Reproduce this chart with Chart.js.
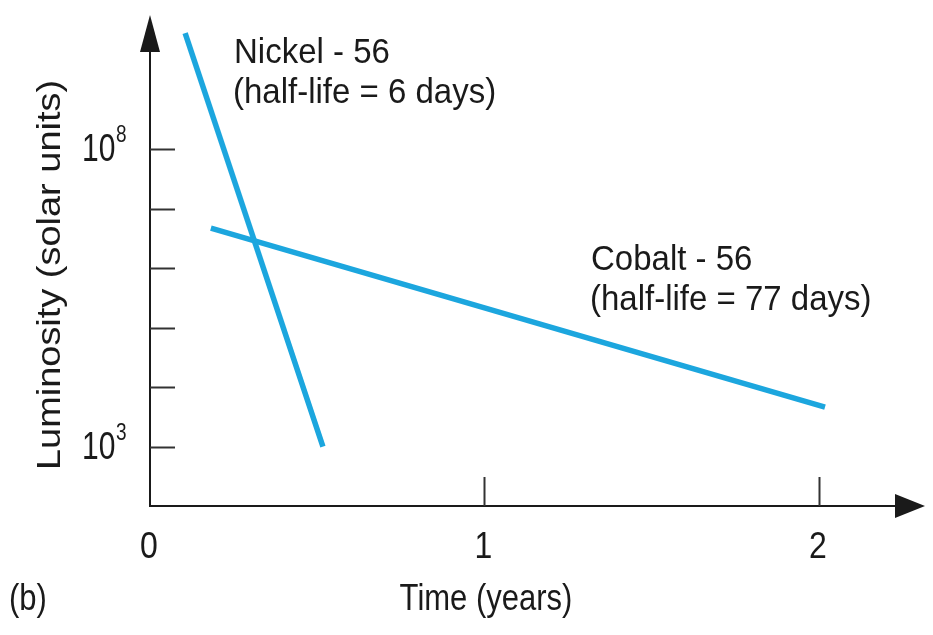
<!DOCTYPE html>
<html>
<head>
<meta charset="utf-8">
<script src="https://cdn.jsdelivr.net/npm/chart.js@4"></script>
<style>
  html, body { margin: 0; padding: 0; background: #fff; }
  #wrap { width: 933px; height: 635px; }
</style>
</head>
<body>
<div id="wrap"><canvas id="chart" width="933" height="635"></canvas></div>
<script>
'use strict';

// time in years, luminosity in solar units
const nickelTime = [0.105, 0.517];
const nickelLum  = [8.9e9, 1.0e3];
const cobaltTime = [0.182, 2.018];
const cobaltLum  = [4.7e6, 4.6e3];

const xTicks      = [0, 1, 2];
const yTicks      = [1e3, 1e4, 1e5, 1e6, 1e7, 1e8];
const yLabelExps  = [3, 8];

const FONT = '"Liberation Sans", Arial, Helvetica, sans-serif';
const INK  = '#1a1a1a';
const BLUE = '#1ca6de';

// text is a bit taller than Arial in the original, so stretch it vertically
function txt(ctx, s, x, y, size, align, sy) {
  ctx.save();
  ctx.translate(x, y);
  ctx.scale(1, sy || 1);
  ctx.font = size + 'px ' + FONT;
  ctx.textAlign = align || 'left';
  ctx.textBaseline = 'alphabetic';
  ctx.fillText(s, 0, 0);
  ctx.restore();
}

const axesPlugin = {
  id: 'axes',
  afterDraw(chart) {
    const ctx = chart.ctx;
    const xs = chart.scales.x, ys = chart.scales.y;
    const { left, right, top, bottom } = chart.chartArea;
    ctx.save();
    ctx.strokeStyle = INK;
    ctx.fillStyle = INK;

    // axis lines
    ctx.lineWidth = 2;
    ctx.beginPath();
    ctx.moveTo(left, top + 30);
    ctx.lineTo(left, bottom);
    ctx.lineTo(right - 25, bottom);
    ctx.stroke();

    // arrowheads
    ctx.beginPath();
    ctx.moveTo(left, top);
    ctx.lineTo(left - 10, top + 37);
    ctx.lineTo(left + 10, top + 37);
    ctx.closePath();
    ctx.fill();
    ctx.beginPath();
    ctx.moveTo(right, bottom);
    ctx.lineTo(right - 30, bottom - 12);
    ctx.lineTo(right - 30, bottom + 12);
    ctx.closePath();
    ctx.fill();

    // y ticks (pointing in)
    ctx.strokeStyle = '#333';
    ctx.lineWidth = 2;
    yTicks.forEach((v) => {
      const py = Math.round(ys.getPixelForValue(v)) + 0.5;
      ctx.beginPath();
      ctx.moveTo(left, py);
      ctx.lineTo(left + 25, py);
      ctx.stroke();
    });
    // x ticks (pointing up)
    xTicks.forEach((v) => {
      if (v === 0) return;
      const px = Math.round(xs.getPixelForValue(v)) + 0.5;
      ctx.beginPath();
      ctx.moveTo(px, bottom);
      ctx.lineTo(px, bottom - 29);
      ctx.stroke();
    });

    // tick labels
    ctx.fillStyle = INK;
    xTicks.forEach((v) => {
      txt(ctx, String(v), xs.getPixelForValue(v) - 1, bottom + 52, 32, 'center', 1.13);
    });
    yLabelExps.forEach((e) => {
      const py = ys.getPixelForValue(Math.pow(10, e));
      txt(ctx, '10', left - 68, py + 12, 30, 'left', 1.3);
      txt(ctx, String(e), left - 34, py - 7, 19, 'left', 1.25);
    });

    // axis titles
    txt(ctx, 'Time (years)', 486, 610, 31, 'center', 1.2);
    txt(ctx, '(b)', 9, 610, 31, 'left', 1.2);
    ctx.save();
    ctx.translate(60, 275);
    ctx.rotate(-Math.PI / 2);
    ctx.scale(1.15, 1);
    ctx.font = '33px ' + FONT;
    ctx.textAlign = 'center';
    ctx.textBaseline = 'alphabetic';
    ctx.fillText('Luminosity (solar units)', 0, 0);
    ctx.restore();

    // annotations
    txt(ctx, 'Nickel - 56', 234, 63, 33, 'left', 1.07);
    txt(ctx, '(half-life = 6 days)', 233, 103, 33, 'left', 1.07);
    txt(ctx, 'Cobalt - 56', 591, 270, 33, 'left', 1.07);
    txt(ctx, '(half-life = 77 days)', 590, 310, 33, 'left', 1.07);

    ctx.restore();
  },
};

const toPts = (xs, ys) => xs.map((x, i) => ({ x, y: ys[i] }));

new Chart(document.getElementById('chart').getContext('2d'), {
  type: 'scatter',
  data: {
    datasets: [
      { label: 'Nickel-56', data: toPts(nickelTime, nickelLum), showLine: true,
        borderColor: BLUE, borderWidth: 5.5, pointRadius: 0, borderCapStyle: 'butt' },
      { label: 'Cobalt-56', data: toPts(cobaltTime, cobaltLum), showLine: true,
        borderColor: BLUE, borderWidth: 5.5, pointRadius: 0, borderCapStyle: 'butt' },
    ],
  },
  options: {
    responsive: false,
    animation: false,
    layout: { padding: { left: 150, right: 8, top: 15, bottom: 129 } },
    plugins: { legend: { display: false }, tooltip: { enabled: false } },
    scales: {
      x: { type: 'linear', display: false, min: 0, max: 2.317 },
      y: { type: 'logarithmic', display: false, min: 1e2, max: 1.8e10 },
    },
  },
  plugins: [axesPlugin],
});
</script>
</body>
</html>
